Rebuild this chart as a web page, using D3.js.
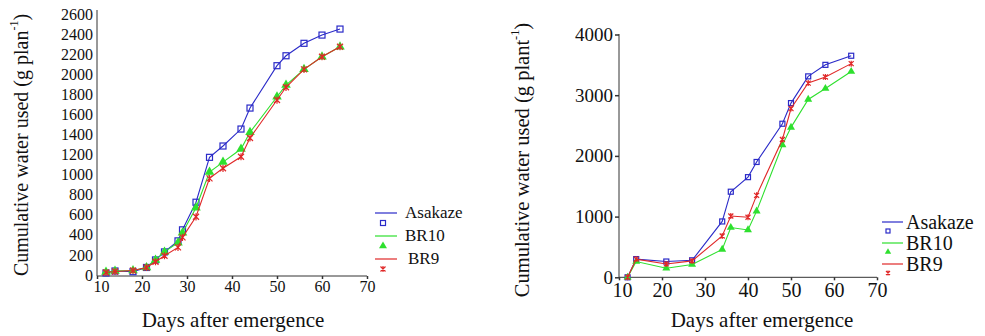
<!DOCTYPE html>
<html>
<head>
<meta charset="utf-8">
<script src="https://cdn.jsdelivr.net/npm/d3@7"></script>
<style>
  body { margin: 0; background: #fff; }
  svg text { font-family: "Liberation Serif", "DejaVu Serif", "Times New Roman", serif !important; }
</style>
</head>
<body>
<svg id="chart" width="985" height="336"></svg>
<script>
// left panel
const daysA = [12, 14, 18, 21, 23, 25, 28, 29, 32, 35, 38, 42, 44, 50, 52, 56, 60, 64];
const asakazeA = [20, 40, 33, 75, 150, 230, 340, 450, 725, 1172, 1285, 1454, 1663, 2085, 2184, 2308, 2390, 2450];
const br10A = [30, 40, 45, 75, 150, 230, 322, 420, 670, 1025, 1125, 1255, 1421, 1776, 1892, 2049, 2174, 2274];
const br9A = [25, 35, 45, 75, 132, 192, 275, 375, 580, 963, 1063, 1178, 1365, 1743, 1870, 2049, 2174, 2274];
const yTicksA = [0, 200, 400, 600, 800, 1000, 1200, 1400, 1600, 1800, 2000, 2200, 2400, 2600];

// right panel
const daysB = [12, 14, 21, 27, 34, 36, 40, 42, 48, 50, 54, 58, 64];
const asakazeB = [0, 300, 260, 280, 920, 1410, 1650, 1900, 2530, 2870, 3310, 3500, 3650];
const br10B = [0, 260, 150, 210, 460, 820, 780, 1090, 2180, 2470, 2930, 3110, 3390];
const br9B = [0, 300, 220, 270, 680, 1010, 990, 1350, 2270, 2780, 3200, 3300, 3520];
const yTicksB = [0, 1000, 2000, 3000, 4000];

const xTicks = [10, 20, 30, 40, 50, 60, 70];
const names = ['Asakaze', 'BR10', 'BR9'];
const colors = ['#2a2ac8', '#2ee02e', '#e02828'];
const axisColor = '#333';

const svg = d3.select('#chart');

// marker shapes
function drawMarker(g, kind, x, y, s, color) {
  if (kind === 0) {
    g.append('rect').attr('x', x - s / 2).attr('y', y - s / 2)
      .attr('width', s).attr('height', s)
      .attr('fill', 'none').attr('stroke', color).attr('stroke-width', 1.2);
  } else if (kind === 1) {
    g.append('path')
      .attr('d', d3.symbol().type(d3.symbolTriangle).size(s * s * 1.1)())
      .attr('transform', 'translate(' + x + ',' + y + ')')
      .attr('fill', color);
  } else {
    const r = s / 2;
    g.append('path')
      .attr('d', 'M' + (x - r) + ',' + (y - r) + 'L' + (x + r) + ',' + (y + r) +
        'M' + (x + r) + ',' + (y - r) + 'L' + (x - r) + ',' + (y + r) +
        'M' + x + ',' + (y - r * 1.2) + 'L' + x + ',' + (y + r * 1.2))
      .attr('stroke', color).attr('stroke-width', 1.2).attr('fill', 'none');
  }
}

function panel(opt) {
  const g = svg.append('g');
  const x = d3.scaleLinear().domain([10, 70]).range(opt.xr);
  const y = d3.scaleLinear().domain([0, opt.ymax]).range(opt.yr);

  // axes
  const yAxis = g.append('g')
    .attr('transform', 'translate(' + opt.xr[0] + ',0)')
    .call(d3.axisLeft(y).tickValues(opt.yTicks).tickSize(opt.yTickSize).tickPadding(opt.yPad).tickFormat(d3.format('d')));
  yAxis.select('.domain').attr('d', 'M0,' + opt.yTop + 'V' + opt.xAxisY).attr('stroke', axisColor);
  yAxis.selectAll('.tick line').attr('stroke', axisColor).attr('stroke-width', 1.5);
  yAxis.selectAll('text').attr('font-size', opt.tickFont).attr('fill', '#111');

  const xAxis = g.append('g')
    .attr('transform', 'translate(0,' + opt.xAxisY + ')')
    .call(d3.axisBottom(x).tickValues(xTicks).tickSize(3).tickPadding(opt.xPad));
  xAxis.select('.domain').attr('d', 'M' + opt.xr[0] + ',0H' + opt.xr[1]).attr('stroke', axisColor);
  xAxis.selectAll('.tick line').attr('stroke', axisColor).attr('stroke-width', 1.5);
  xAxis.selectAll('text').attr('font-size', opt.xTickFont).attr('fill', '#111')
    .attr('dx', d => d === 10 ? opt.firstShift : 0);

  // series
  const line = d3.line().x(d => x(d[0])).y(d => y(d[1]));
  opt.series.forEach((vals, i) => {
    const pts = opt.days.map((d, j) => [d, vals[j]]);
    g.append('path').datum(pts)
      .attr('fill', 'none').attr('stroke', colors[i]).attr('stroke-width', 1.1)
      .attr('d', line);
    pts.forEach(p => drawMarker(g, i, x(p[0]), y(p[1]), opt.mark, colors[i]));
  });

  // titles
  g.append('text')
    .attr('transform', 'translate(' + opt.yTitle[0] + ',' + opt.yTitle[1] + ') rotate(-90)')
    .attr('text-anchor', 'middle').attr('dominant-baseline', 'central')
    .attr('font-size', opt.titleFont).attr('fill', '#111')
    .call(t => {
      t.append('tspan').text('Cumulative water used (g ' + opt.unit);
      t.append('tspan').text('-1').attr('font-size', opt.titleFont * 0.6).attr('dy', -7);
      t.append('tspan').text(')').attr('dy', 7);
    });
  g.append('text')
    .attr('x', opt.xTitle[0]).attr('y', opt.xTitle[1])
    .attr('text-anchor', 'middle').attr('font-size', 21).attr('fill', '#111')
    .text('Days after emergence');

  // legend
  names.forEach((n, i) => {
    const ly = opt.leg.y + i * opt.leg.dy;
    g.append('line').attr('x1', opt.leg.x).attr('x2', opt.leg.x + opt.leg.w)
      .attr('y1', ly).attr('y2', ly).attr('stroke', colors[i]).attr('stroke-width', 1.2);
    drawMarker(g, i, opt.leg.mx, ly + opt.leg.mdy, opt.mark - 1, colors[i]);
    g.append('text').attr('x', opt.leg.tx + (i === 2 ? opt.leg.shift9 : 0)).attr('y', ly + opt.leg.tdy)
      .attr('font-size', opt.leg.font).attr('fill', '#111').text(n);
  });
}

panel({
  xr: [97, 367], yr: [275, 14], ymax: 2600, yTop: 10, xAxisY: 276,
  yTicks: yTicksA, yTickSize: 0, yPad: 4, xPad: 2, firstShift: 4,
  tickFont: 16, xTickFont: 16, titleFont: 20,
  days: daysA, series: [asakazeA, br10A, br9A], mark: 6,
  unit: 'plan', yTitle: [21, 145], xTitle: [233, 327],
  leg: { x: 375, w: 22, y: 213, dy: 23, mx: 383, mdy: 10, tx: 405, tdy: 5, font: 17, shift9: 3 }
});

panel({
  xr: [619, 877], yr: [277.3, 34.5], ymax: 4000, yTop: 34, xAxisY: 277.3,
  yTicks: yTicksB, yTickSize: 4, yPad: 2, xPad: 3, firstShift: 3,
  tickFont: 19, xTickFont: 20, titleFont: 20.5,
  days: daysB, series: [asakazeB, br10B, br9B], mark: 5,
  unit: 'plant', yTitle: [522, 160], xTitle: [762, 327],
  leg: { x: 882, w: 21, y: 222, dy: 21, mx: 888, mdy: 9, tx: 906, tdy: 7, font: 20, shift9: 0 }
});
</script>
</body>
</html>
